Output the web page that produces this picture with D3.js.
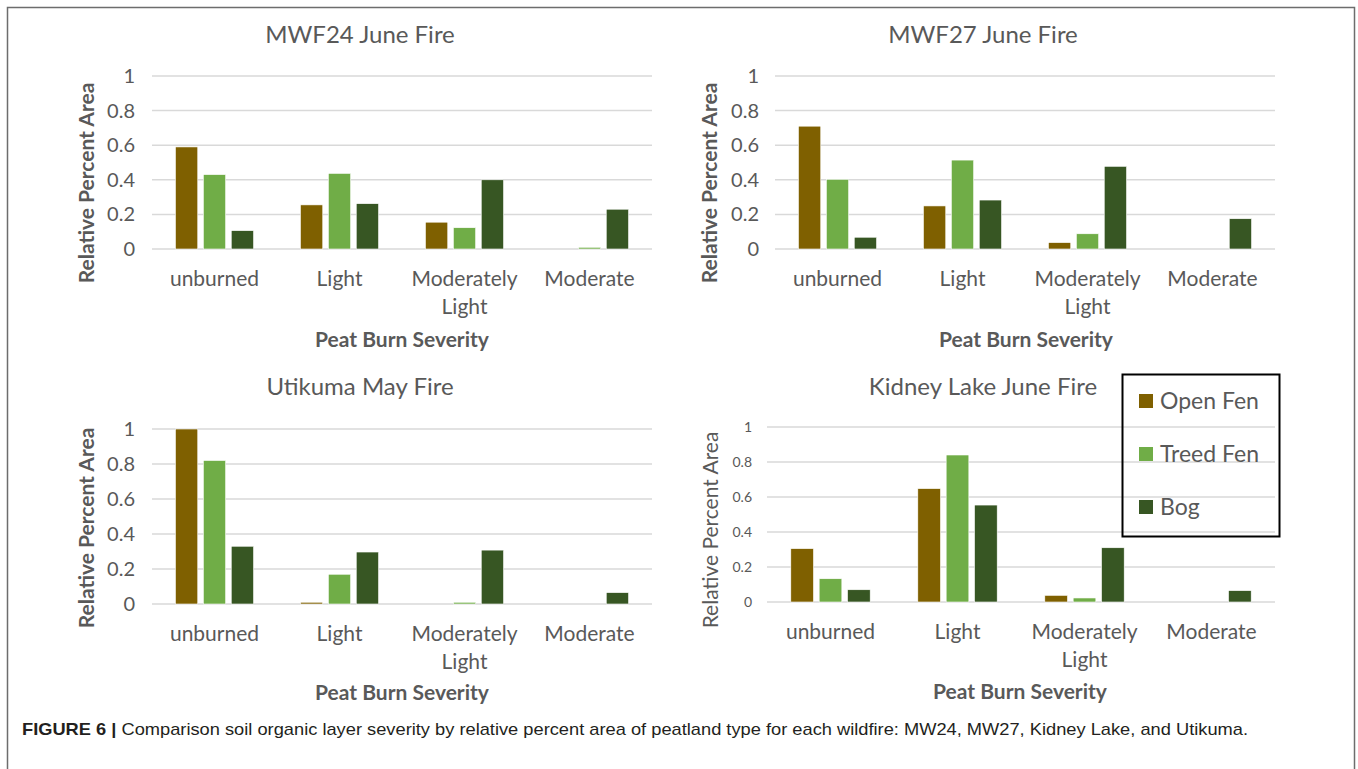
<!DOCTYPE html>
<html lang="en">
<head>
<meta charset="UTF-8">
<title>Peat burn severity</title>
<style>
    body { margin: 0; background: #fff; }
    svg text { font-family: Lato, "Noto Sans", sans-serif; fill: #595959; }
    .caption { font-family: "Liberation Sans", Arial, sans-serif; fill: #231f20; }
</style>
</head>
<body>
<svg id="fig" width="1358" height="769"></svg>
<script src="https://d3js.org/d3.v7.min.js"></script>
<script>

// categories and series
var categories = ["unburned", "Light", "Moderately Light", "Moderate"];
var peatTypes = ["Open Fen", "Treed Fen", "Bog"];
var colors = ["#7f6000", "#70ad47", "#375623"];
var yTicks = [0, 0.2, 0.4, 0.6, 0.8, 1];

// MWF24 June Fire
var mwf24OpenFen = [0.59, 0.255, 0.155, 0];
var mwf24TreedFen = [0.43, 0.437, 0.123, 0.01];
var mwf24Bog = [0.106, 0.262, 0.40, 0.23];
// MWF27 June Fire
var mwf27OpenFen = [0.71, 0.249, 0.037, 0];
var mwf27TreedFen = [0.403, 0.514, 0.088, 0];
var mwf27Bog = [0.068, 0.283, 0.478, 0.175];
// Utikuma May Fire
var utikumaOpenFen = [1.0, 0.01, 0, 0];
var utikumaTreedFen = [0.82, 0.17, 0.01, 0];
var utikumaBog = [0.33, 0.297, 0.308, 0.065];
// Kidney Lake June Fire
var kidneyOpenFen = [0.305, 0.648, 0.038, 0];
var kidneyTreedFen = [0.133, 0.84, 0.023, 0];
var kidneyBog = [0.07, 0.554, 0.31, 0.065];

var svg = d3.select("#fig");

// outer frame
svg.append("rect")
    .attr("x", 7.5).attr("y", 7.5)
    .attr("width", 1347).attr("height", 800)
    .attr("fill", "none")
    .attr("stroke", "#6d6d6d")
    .attr("stroke-width", 1.5);

var panels = [
    {title: "MWF24 June Fire", series: [mwf24OpenFen, mwf24TreedFen, mwf24Bog],
     x0: 152, x1: 652, yTop: 76, yBot: 249, titleX: 360, titleY: 43,
     tickX: 135, tickSize: 20, yTitleX: 94, yTitleY: 183, yTitleBold: true, yTitleSize: 21,
     catY: 286, xTitleX: 402, xTitleY: 347},
    {title: "MWF27 June Fire", series: [mwf27OpenFen, mwf27TreedFen, mwf27Bog],
     x0: 775, x1: 1275, yTop: 76, yBot: 249, titleX: 983, titleY: 43,
     tickX: 759, tickSize: 20, yTitleX: 717, yTitleY: 183, yTitleBold: true, yTitleSize: 21,
     catY: 286, xTitleX: 1026, xTitleY: 347},
    {title: "Utikuma May Fire", series: [utikumaOpenFen, utikumaTreedFen, utikumaBog],
     x0: 152, x1: 652, yTop: 429, yBot: 604, titleX: 360, titleY: 395,
     tickX: 135, tickSize: 20, yTitleX: 94, yTitleY: 528, yTitleBold: true, yTitleSize: 21,
     catY: 641, xTitleX: 402, xTitleY: 700},
    {title: "Kidney Lake June Fire", series: [kidneyOpenFen, kidneyTreedFen, kidneyBog],
     x0: 767, x1: 1275, yTop: 427, yBot: 602, titleX: 983, titleY: 395,
     tickX: 752, tickSize: 14, yTitleX: 718, yTitleY: 530, yTitleBold: false, yTitleSize: 21,
     catY: 639, xTitleX: 1020, xTitleY: 699}
];

panels.forEach(drawPanel);

function drawPanel(p) {
    var g = svg.append("g");

    var x = d3.scaleBand().domain(categories).range([p.x0, p.x1])
        .paddingInner(0.375).paddingOuter(0.1875);
    var xSub = d3.scaleBand().domain(d3.range(peatTypes.length))
        .range([0, x.bandwidth()]).paddingInner(0.2);
    var y = d3.scaleLinear().domain([0, 1]).range([p.yBot, p.yTop]);

    // gridlines
    g.selectAll(".grid").data(yTicks).enter().append("line")
        .attr("x1", p.x0).attr("x2", p.x1)
        .attr("y1", d => y(d)).attr("y2", d => y(d))
        .attr("stroke", "#d9d9d9").attr("stroke-width", 1.5);

    // y tick labels
    g.selectAll(".tick").data(yTicks).enter().append("text")
        .attr("x", p.tickX).attr("y", d => y(d))
        .attr("dy", "0.35em")
        .attr("text-anchor", "end")
        .attr("font-size", p.tickSize)
        .text(d => d3.format("")(+d.toFixed(1)));

    // bars
    p.series.forEach((vals, si) => {
        g.selectAll(".bar" + si).data(vals).enter().append("rect")
            .attr("x", (d, i) => x(categories[i]) + xSub(si))
            .attr("width", xSub.bandwidth())
            .attr("y", d => y(d))
            .attr("height", d => y(0) - y(d))
            .attr("fill", colors[si])
            .attr("stroke", "#fff").attr("stroke-width", 0.6);
    });

    // category labels (wrap two-word label)
    categories.forEach(c => {
        var lines = c === "Moderately Light" ? ["Moderately", "Light"] : [c];
        var t = g.append("text")
            .attr("x", x(c) + x.bandwidth() / 2)
            .attr("y", p.catY)
            .attr("text-anchor", "middle")
            .attr("font-size", 21);
        lines.forEach((l, i) => {
            t.append("tspan")
                .attr("x", x(c) + x.bandwidth() / 2)
                .attr("dy", i ? 28 : 0)
                .text(l);
        });
    });

    // titles
    g.append("text")
        .attr("x", p.titleX).attr("y", p.titleY)
        .attr("text-anchor", "middle")
        .attr("font-size", 24)
        .text(p.title);

    g.append("text")
        .attr("transform", "translate(" + p.yTitleX + "," + p.yTitleY + ") rotate(-90)")
        .attr("text-anchor", "middle")
        .attr("font-size", p.yTitleSize)
        .attr("font-weight", p.yTitleBold ? "bold" : "normal")
        .text("Relative Percent Area");

    g.append("text")
        .attr("x", p.xTitleX).attr("y", p.xTitleY)
        .attr("text-anchor", "middle")
        .attr("font-size", 21)
        .attr("font-weight", "bold")
        .text("Peat Burn Severity");
}

// legend (transparent box, gridlines show through)
var legend = svg.append("g");
legend.append("rect")
    .attr("x", 1122.5).attr("y", 374.5)
    .attr("width", 157).attr("height", 162)
    .attr("fill", "none")
    .attr("stroke", "#000").attr("stroke-width", 2);
peatTypes.forEach((name, i) => {
    var ly = 401 + i * 53;
    legend.append("rect")
        .attr("x", 1139).attr("y", ly - 7)
        .attr("width", 14).attr("height", 14)
        .attr("fill", colors[i]);
    legend.append("text")
        .attr("x", 1160).attr("y", ly)
        .attr("dy", "0.35em")
        .attr("font-size", 23)
        .text(name);
});

// caption
var cap = svg.append("text")
    .attr("class", "caption")
    .attr("x", 22).attr("y", 735)
    .attr("font-size", 17)
    .attr("textLength", 1226)
    .attr("lengthAdjust", "spacingAndGlyphs");
cap.append("tspan").attr("font-weight", "bold").text("FIGURE 6 | ");
cap.append("tspan").text("Comparison soil organic layer severity by relative percent area of peatland type for each wildfire: MW24, MW27, Kidney Lake, and Utikuma.");

</script>
</body>
</html>
